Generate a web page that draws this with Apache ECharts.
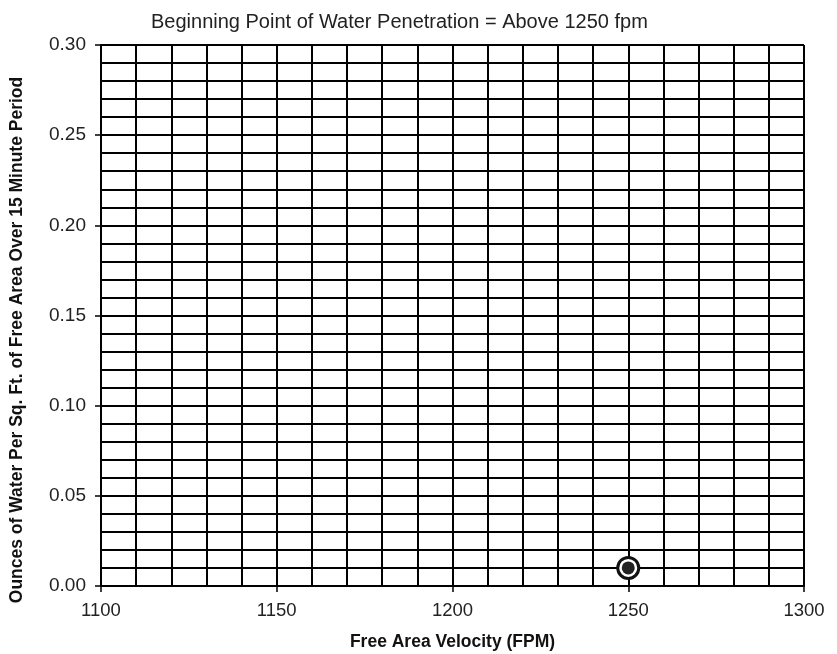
<!DOCTYPE html>
<html><head><meta charset="utf-8">
<script src="https://cdn.jsdelivr.net/npm/echarts@6/dist/echarts.min.js"></script>
<style>html,body{margin:0;padding:0;background:#fff}#c{width:837px;height:654px}</style>
</head><body><div id="c"></div>
<script>
var titleText = "Beginning Point of Water Penetration = Above 1250 fpm";
var xName = "Free Area Velocity (FPM)";
var yName = "Ounces of Water Per Sq. Ft. of Free Area Over 15 Minute Period";
var velocity = [1250];
var ounces = [0.01];
var xRange = [1100, 1300];
var yRange = [0, 0.30];

var pts = velocity.map(function (v, i) { return [v, ounces[i]]; });
var font = "'Liberation Sans', Arial, sans-serif";
var chart = echarts.init(document.getElementById('c'));
chart.setOption({
  animation: false,
  backgroundColor: '#fff',
  title: { text: titleText, left: 146, top: 7,
    textStyle: { fontFamily: font, fontSize: 20, fontWeight: 'normal', color: '#222' } },
  grid: { left: 101, right: 33, top: 45, bottom: 68, outerBoundsMode: 'none', containLabel: false },
  graphic: [{
    type: 'text', x: 17, y: 340, rotation: Math.PI / 2,
    style: { text: yName, fontFamily: font, fontSize: 17.5, fontWeight: 'bold', fill: '#111',
      align: 'center', verticalAlign: 'middle' }
  }],
  xAxis: {
    type: 'value', min: xRange[0], max: xRange[1], interval: 50,
    name: xName, nameLocation: 'middle', nameGap: 47,
    nameTextStyle: { fontFamily: font, fontSize: 17.5, fontWeight: 'bold', color: '#111' },
    axisLine: { show: true, lineStyle: { color: '#000', width: 2 } },
    axisTick: { show: true, length: 6, lineStyle: { color: '#000', width: 1.5 } },
    axisLabel: { fontFamily: font, fontSize: 18.5, color: '#222', margin: 15,
      formatter: function (v) { return String(v); } },
    splitLine: { show: true, lineStyle: { color: '#000', width: 2 } },
    minorTick: { show: false, splitNumber: 5 },
    minorSplitLine: { show: true, lineStyle: { color: '#000', width: 2 } }
  },
  yAxis: {
    type: 'value', min: yRange[0], max: yRange[1], interval: 0.05,
    axisLine: { show: true, lineStyle: { color: '#000', width: 2 } },
    axisTick: { show: true, length: 6, lineStyle: { color: '#000', width: 1.5 } },
    axisLabel: { fontFamily: font, fontSize: 19, color: '#222', margin: 15,
      formatter: function (v) { return v.toFixed(2); } },
    splitLine: { show: true, lineStyle: { color: '#000', width: 2 } },
    minorTick: { show: false, splitNumber: 5 },
    minorSplitLine: { show: true, lineStyle: { color: '#000', width: 2 } }
  },
  series: [
    { type: 'scatter', data: pts, symbol: 'circle', symbolSize: 21, z: 3,
      itemStyle: { color: '#fff', borderColor: '#111', borderWidth: 3, opacity: 1 } },
    { type: 'scatter', data: pts, symbol: 'circle', symbolSize: 13, z: 4,
      itemStyle: { color: '#222', opacity: 1 } }
  ]
});
</script></body></html>
